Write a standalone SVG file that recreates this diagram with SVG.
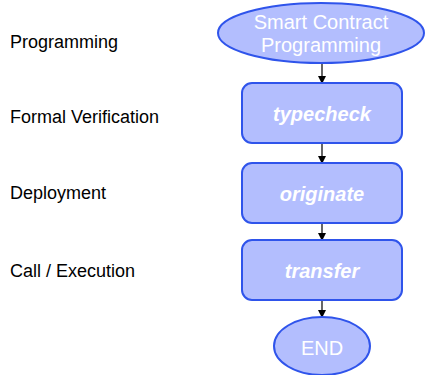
<svg xmlns="http://www.w3.org/2000/svg" width="425" height="375" viewBox="0 0 425 375">
  <defs>
    <marker id="arrow" markerWidth="8" markerHeight="8" refX="7" refY="4" orient="auto" markerUnits="userSpaceOnUse">
      <path d="M0,0 L8,4 L0,8 Z" fill="#000"/>
    </marker>
    <style>
      .shape { fill: #b3befe; stroke: #2f54eb; stroke-width: 2; }
      .label { font-family: "Liberation Sans", Arial, sans-serif; fill: #ffffff; text-anchor: middle; font-size: 20px; }
      .op { font-weight: bold; font-style: italic; }
      .stage { font-family: "Liberation Sans", Arial, sans-serif; font-size: 18px; fill: #000; }
      .edge { stroke: #000; stroke-width: 1.2; fill: none; marker-end: url(#arrow); }
    </style>
  </defs>
  <rect width="425" height="375" fill="#ffffff"/>

  <!-- stage labels -->
  <g id="stages">
    <text class="stage" x="10" y="48">Programming</text>
    <text class="stage" x="10" y="123">Formal Verification</text>
    <text class="stage" x="10" y="199">Deployment</text>
    <text class="stage" x="10" y="277">Call / Execution</text>
  </g>

  <!-- connectors -->
  <g id="connectors">
    <line class="edge" x1="322" y1="63" x2="322" y2="83"/>
    <line class="edge" x1="322" y1="143" x2="322" y2="163"/>
    <line class="edge" x1="322" y1="223" x2="322" y2="240"/>
    <line class="edge" x1="322" y1="300" x2="322" y2="317"/>
  </g>

  <g id="start">
    <ellipse class="shape" cx="321" cy="33" rx="103" ry="30"/>
    <text class="label" x="321" y="29">Smart Contract</text>
    <text class="label" x="321" y="52">Programming</text>
  </g>

  <g id="typecheck">
    <rect class="shape" x="242" y="83" width="160" height="60" rx="10"/>
    <text class="label op" x="322" y="121">typecheck</text>
  </g>

  <g id="originate">
    <rect class="shape" x="242" y="163" width="160" height="60" rx="10"/>
    <text class="label op" x="322" y="201">originate</text>
  </g>

  <g id="transfer">
    <rect class="shape" x="242" y="240" width="160" height="60" rx="10"/>
    <text class="label op" x="322" y="278">transfer</text>
  </g>

  <g id="end">
    <ellipse class="shape" cx="322" cy="346" rx="48" ry="29"/>
    <text class="label" x="322" y="355">END</text>
  </g>
</svg>
